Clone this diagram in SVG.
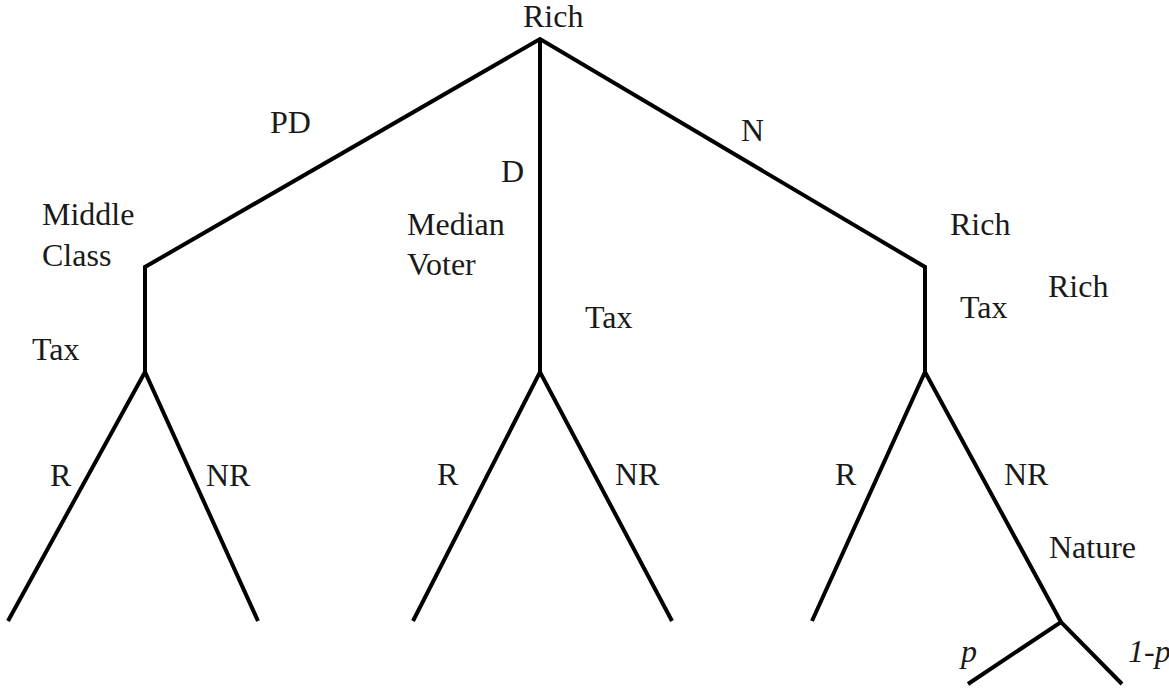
<svg xmlns="http://www.w3.org/2000/svg" width="1169" height="688" viewBox="0 0 1169 688">
<style>
.e{stroke:#000;stroke-width:4;fill:none;stroke-linecap:butt;stroke-linejoin:miter}
.i{font-style:italic}
</style>
<rect width="1169" height="688" fill="#fff"/>
<g id="connectors">
<polyline class="e" points="145,372 145,267 540,39 925,267 925,372"/>
<line class="e" x1="540" y1="39" x2="540" y2="372"/>
<polyline class="e" points="8,621 145,372 258,621"/>
<polyline class="e" points="413,621 540,372 672,621"/>
<polyline class="e" points="812,621 925,372 1061,622"/>
<polyline class="e" points="968,684 1061,622 1122,684"/>
</g>
<g font-family="Liberation Serif, Times New Roman, Times, DejaVu Serif, serif" font-size="32" fill="#1a1a1a">
<g id="node-root"><text x="523" y="27">Rich</text></g>
<g id="edge-labels-top">
<text x="270" y="133">PD</text>
<text x="501" y="182">D</text>
<text x="741" y="141">N</text>
</g>
<g id="node-middle-class">
<text x="42" y="225">Middle</text>
<text x="42" y="266">Class</text>
<text x="32" y="360">Tax</text>
</g>
<g id="node-median-voter">
<text x="407" y="235">Median</text>
<text x="407" y="275">Voter</text>
<text x="585" y="328">Tax</text>
</g>
<g id="node-rich-right">
<text x="950" y="235">Rich</text>
<text x="960" y="318">Tax</text>
<text x="1048" y="297">Rich</text>
</g>
<g id="leaf-labels">
<text x="50" y="486">R</text>
<text x="206" y="486">NR</text>
<text x="437" y="485">R</text>
<text x="615" y="485">NR</text>
<text x="835" y="485">R</text>
<text x="1004" y="485">NR</text>
</g>
<g id="node-nature">
<text x="1049" y="558">Nature</text>
<text class="i" x="961" y="662">p</text>
<text class="i" x="1128" y="662">1-p</text>
</g>
</g>
</svg>
